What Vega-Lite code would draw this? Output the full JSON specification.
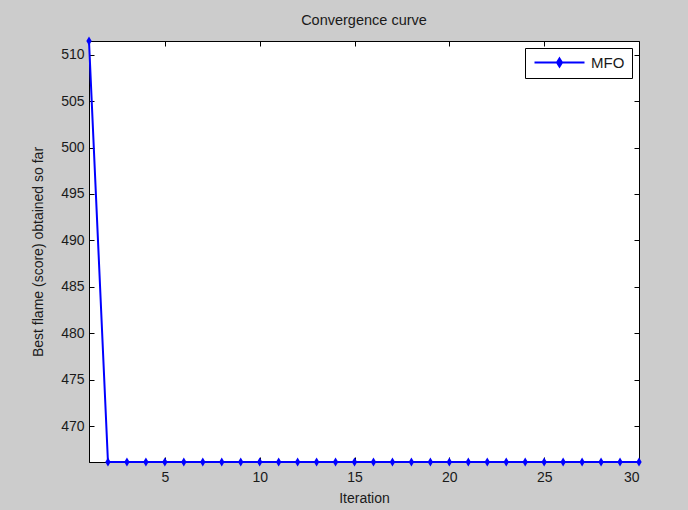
{
  "$schema": "https://vega.github.io/schema/vega-lite/v6.json",
  "autosize": {"type": "none"},
  "padding": {"left": 89, "top": 41, "right": 49, "bottom": 48},
  "width": 550,
  "height": 421,
  "background": "#cccccc",
  "config": {
    "font": "Liberation Sans",
    "view": {"fill": "white", "stroke": "black", "strokeWidth": 1},
    "axis": {
      "domainColor": "black",
      "tickColor": "black",
      "labelColor": "#1a1a1a",
      "titleColor": "#1a1a1a",
      "labelFont": "Liberation Sans",
      "titleFont": "Liberation Sans",
      "labelFontSize": 14,
      "titleFontSize": 14,
      "titleFontWeight": "normal",
      "grid": false,
      "tickSize": -5
    }
  },
  "title": {
    "text": "Convergence curve",
    "fontSize": 14.5,
    "fontWeight": "normal",
    "font": "Liberation Sans",
    "color": "#1a1a1a",
    "offset": 8
  },
  "data": {
    "values": [
      {"iter": 1, "score": 511.46, "series": "MFO"},
      {"iter": 2, "score": 466.16, "series": "MFO"},
      {"iter": 3, "score": 466.16, "series": "MFO"},
      {"iter": 4, "score": 466.16, "series": "MFO"},
      {"iter": 5, "score": 466.16, "series": "MFO"},
      {"iter": 6, "score": 466.16, "series": "MFO"},
      {"iter": 7, "score": 466.16, "series": "MFO"},
      {"iter": 8, "score": 466.16, "series": "MFO"},
      {"iter": 9, "score": 466.16, "series": "MFO"},
      {"iter": 10, "score": 466.16, "series": "MFO"},
      {"iter": 11, "score": 466.16, "series": "MFO"},
      {"iter": 12, "score": 466.16, "series": "MFO"},
      {"iter": 13, "score": 466.16, "series": "MFO"},
      {"iter": 14, "score": 466.16, "series": "MFO"},
      {"iter": 15, "score": 466.16, "series": "MFO"},
      {"iter": 16, "score": 466.16, "series": "MFO"},
      {"iter": 17, "score": 466.16, "series": "MFO"},
      {"iter": 18, "score": 466.16, "series": "MFO"},
      {"iter": 19, "score": 466.16, "series": "MFO"},
      {"iter": 20, "score": 466.16, "series": "MFO"},
      {"iter": 21, "score": 466.16, "series": "MFO"},
      {"iter": 22, "score": 466.16, "series": "MFO"},
      {"iter": 23, "score": 466.16, "series": "MFO"},
      {"iter": 24, "score": 466.16, "series": "MFO"},
      {"iter": 25, "score": 466.16, "series": "MFO"},
      {"iter": 26, "score": 466.16, "series": "MFO"},
      {"iter": 27, "score": 466.16, "series": "MFO"},
      {"iter": 28, "score": 466.16, "series": "MFO"},
      {"iter": 29, "score": 466.16, "series": "MFO"},
      {"iter": 30, "score": 466.16, "series": "MFO"}
    ]
  },
  "layer": [
    {
      "mark": {"type": "line", "strokeWidth": 0, "opacity": 0},
      "encoding": {
        "x": {"field": "iter", "type": "quantitative", "scale": {"domain": [1, 30], "nice": false, "zero": false},
              "axis": {"orient": "top", "values": [5, 10, 15, 20, 25, 30], "labels": false, "title": null, "domain": false}},
        "y": {"field": "score", "type": "quantitative", "scale": {"domain": [466.16, 511.46], "nice": false, "zero": false},
              "axis": {"orient": "right", "values": [470, 475, 480, 485, 490, 495, 500, 505, 510], "labels": false, "title": null, "domain": false}}
      }
    },
    {
      "mark": {
        "type": "line",
        "strokeWidth": 2,
        "point": {"shape": "M0,-1L0.6,0L0,1L-0.6,0Z", "filled": true, "size": 80}
      },
      "encoding": {
        "x": {"field": "iter", "type": "quantitative",
              "axis": {"orient": "bottom", "values": [5, 10, 15, 20, 25, 30], "title": "Iteration", "labelPadding": 13, "titlePadding": 7}},
        "y": {"field": "score", "type": "quantitative",
              "axis": {"orient": "left", "values": [470, 475, 480, 485, 490, 495, 500, 505, 510], "title": "Best flame (score) obtained so far", "labelPadding": 10, "titlePadding": 15}},
        "color": {
          "field": "series", "type": "nominal",
          "scale": {"range": ["#0000ff"]},
          "legend": {
            "title": null,
            "orient": "top-right",
            "offset": 7,
            "padding": 7,
            "strokeColor": "black",
            "fillColor": "white",
            "cornerRadius": 0,
            "labelFontSize": 15,
            "labelFont": "Liberation Sans",
            "labelColor": "#1a1a1a",
            "symbolType": "M-1,0L9,0M4,-0.8L4.5,0L4,0.8L3.5,0Z",
            "symbolSize": 100,
            "symbolStrokeWidth": 2,
            "labelOffset": 44,
            "encode": {"symbols": {"update": {"fill": {"value": "#0000ff"}, "stroke": {"value": "#0000ff"}, "opacity": {"value": 1}}}}
          }
        }
      }
    }
  ],
  "resolve": {"axis": {"x": "independent", "y": "independent"}}
}
